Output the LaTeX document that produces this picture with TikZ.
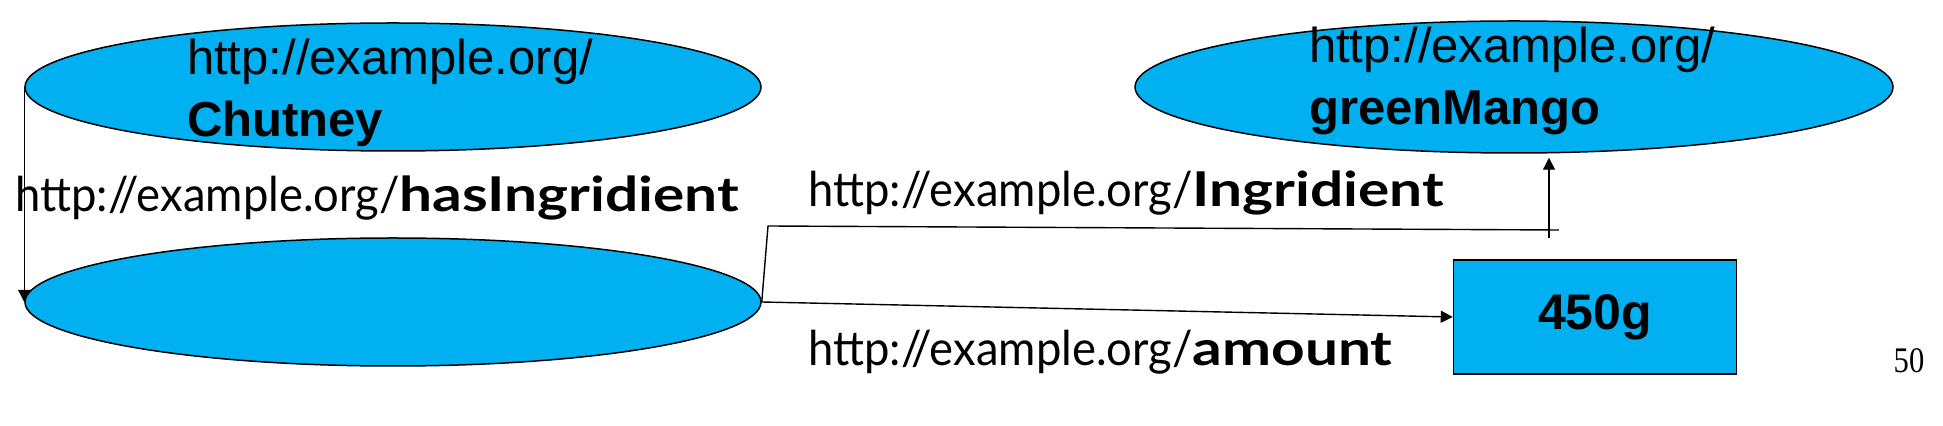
\documentclass[tikz,border=0pt]{standalone}
\usepackage{fontspec}
\setmainfont{Liberation Sans}
\newfontfamily\gillfont[FakeStretch=0.945]{Lato}
\newfontfamily\gillbold[FakeStretch=1.22]{Lato}
\newfontfamily\slidefont[FakeStretch=0.85]{Liberation Serif}
\usetikzlibrary{shapes.geometric,arrows.meta}
\definecolor{nodeblue}{RGB}{0,176,240}
\newcommand\propname[1]{{\gillbold\bfseries #1}}

\tikzset{
  resource/.style={ellipse, draw, line width=0.75pt, fill=nodeblue, inner sep=0pt,
    minimum width=368pt, minimum height=64pt},
  literal/.style={rectangle, draw, line width=0.75pt, fill=nodeblue, inner sep=0pt,
    minimum width=141.5pt, minimum height=57pt,
    font=\fontsize{25}{30}\selectfont\bfseries},
  uri/.style={align=left, inner sep=0pt, font=\fontsize{24.5}{31}\selectfont},
  prop/.style={anchor=base west, inner sep=0pt,
    font=\gillfont\fontsize{24}{28}\selectfont},
  edge/.style={line width=0.7pt},
  tip/.style={-{Triangle[length=6pt,width=6pt]}},
}

\begin{document}
\begin{tikzpicture}[x=0.5pt,y=-0.5pt]
		%%%%% START %%%%%
		\useasboundingbox (0,0) rectangle (1943,426);
		
		\node[resource] (chutney) at (393,87) {};
		\node[uri] (chutneyname) at (390,93) {http://example.org/\\\textbf{Chutney}};
		
		\node[resource] (blank) at (393,302) {};
		
		\node[resource, minimum width=379pt, minimum height=66pt] (mango) at (1514,87) {};
		\node[uri] (mangoname) at (1512,81) {http://example.org/\\\textbf{greenMango}};
		
		\node[literal] (amount) at (1595,317) {450g};
		
		\node[prop] (hasingr) at (15,212) {http://example.org/\propname{hasIngridient}};
		\node[prop] (ingr) at (808,207) {http://example.org/\propname{Ingridient}};
		\node[prop] (amountlabel) at (808,366) {http://example.org/\propname{amount}};
		
		\node[anchor=base, inner sep=0pt, font=\slidefont\fontsize{18}{20}\selectfont] (pageno) at (1909,373) {50};
		
		\draw[edge, tip] (chutney.west) -- (blank.west);
		
		\coordinate (elbow) at (768,226);
		\coordinate (hend) at (1559,230);
		\coordinate (vstart) at (1549,238);
		\draw[edge] (blank.east) -- (elbow) -- (hend);
		\draw[edge, tip, shorten >=2pt] (vstart) -- (vstart |- mango.south);
		
		\draw[edge, tip] (blank.east) -- (amount.west);
		
		%%%%% END %%%%%
	\end{tikzpicture}
\end{document}
